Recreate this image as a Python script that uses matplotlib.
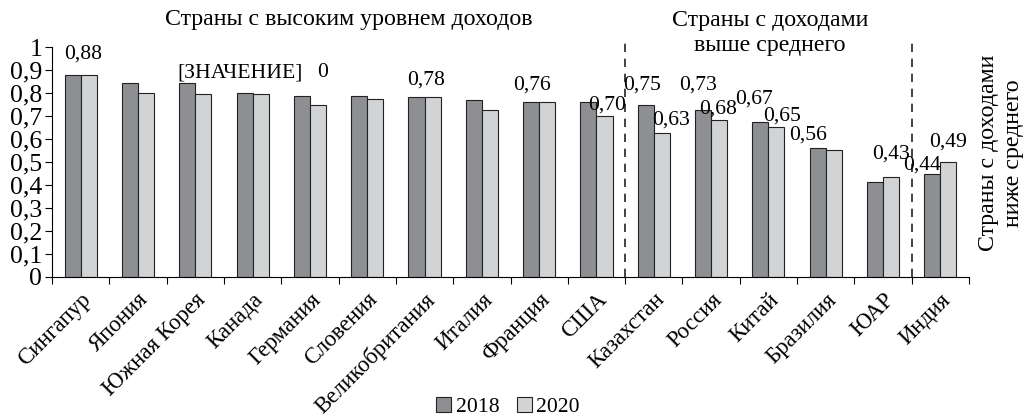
import matplotlib
matplotlib.use('Agg')
import matplotlib.pyplot as plt
from matplotlib.transforms import ScaledTranslation
import numpy as np

plt.rcParams['font.family'] = ['Liberation Serif', 'DejaVu Serif']

countries = ['Сингапур', 'Япония', 'Южная Корея', 'Канада', 'Германия', 'Словения',
             'Великобритания', 'Италия', 'Франция', 'США', 'Казахстан', 'Россия',
             'Китай', 'Бразилия', 'ЮАР', 'Индия']
v2018 = [0.88, 0.843, 0.843, 0.80, 0.788, 0.788, 0.782, 0.769, 0.762, 0.76,
         0.747, 0.727, 0.674, 0.561, 0.413, 0.446]
v2020 = [0.88, 0.802, 0.795, 0.795, 0.747, 0.775, 0.782, 0.727, 0.762, 0.70,
         0.628, 0.682, 0.654, 0.554, 0.435, 0.50]
years = ['2018', '2020']
yticks = np.arange(0, 1.01, 0.1)

# data labels: (country index, series, text)
labels = [(0, 0, '0,88'), (2, 0, '[ЗНАЧЕНИЕ]'), (4, 0, '0'), (6, 0, '0,78'),
          (8, 0, '0,76'), (9, 1, '0,70'), (10, 0, '0,75'), (10, 1, '0,63'),
          (11, 0, '0,73'), (11, 1, '0,68'), (12, 0, '0,67'), (12, 1, '0,65'),
          (13, 0, '0,56'), (14, 1, '0,43'), (15, 0, '0,44'), (15, 1, '0,49')]
# offsets of label centres from bar tops, pixels
label_off = [(10, 21), (53, 10), (21, 23), (10, 17), (1, 17), (3, 11), (-4, 20), (9, 13),
             (-5, 25), (-1, 11), (-6, 23), (6, 11), (-10, 13), (0, 23), (-10, 9), (0, 20)]

fig = plt.figure(figsize=(10.27, 4.18), dpi=100)
ax = fig.add_axes([52/1027, 1-276.7/418, 917/1027, 229.4/418])

x = np.arange(len(countries))
w = 0.28
c18 = '#8e8f93'
c20 = '#d2d3d5'
b1 = ax.bar(x - w/2, v2018, w, color=c18, edgecolor='#222222', linewidth=0.8, label=years[0])
b2 = ax.bar(x + w/2, v2020, w, color=c20, edgecolor='#222222', linewidth=0.8, label=years[1])

vals = [v2018, v2020]
for (i, s, t), (dx, dy) in zip(labels, label_off):
    xc = x[i] + (w/2 if s else -w/2)
    ax.annotate(t, (xc, vals[s][i]), xytext=(dx, dy), textcoords='offset pixels',
                ha='center', va='center', fontsize=15.6)

ax.set_xlim(-0.5, len(countries) - 0.5)
ax.set_ylim(0, 1)
ax.set_yticks(yticks)
ax.set_yticklabels([('%.1f' % v).replace('.', ',') if v not in (0, 1) else '%d' % round(v)
                    for v in yticks], fontsize=18.5)
ax.set_xticks(np.arange(len(countries) + 1) - 0.5)
ax.set_xticklabels([])
ax.set_xticks(x, minor=True)
ax.set_xticklabels(countries, minor=True, rotation=45, ha='right', rotation_mode='anchor',
                   fontsize=16.4)
shift = ScaledTranslation(-4/100, 0, fig.dpi_scale_trans)
for lab in ax.get_xticklabels(minor=True):
    lab.set_transform(lab.get_transform() + shift)
ax.tick_params(axis='x', which='minor', length=0, pad=9)
ax.tick_params(axis='x', which='major', length=5, direction='out')
ax.tick_params(axis='y', length=5, direction='out', pad=2)
for sp in ['top', 'right']:
    ax.spines[sp].set_visible(False)

for b in [9.5, 14.5]:
    ax.plot([b, b], [0, 1.025], ls=(0, (5, 4)), color='#222222', lw=1.2, clip_on=False)

fig.text(349/1027, 1-20/418, 'Страны с высоким уровнем доходов', ha='center', va='center',
         fontsize=17.2)
fig.text(770/1027, 1-33/418, 'Страны с доходами\nвыше среднего', ha='center', va='center',
         fontsize=17.2, linespacing=1.25)
fig.text(1001/1027, 1-153/418, 'Страны с доходами\nниже среднего', ha='center', va='center',
         rotation=90, fontsize=17.2, linespacing=1.3)

fig.legend(handles=[b1, b2], labels=years, loc='center', bbox_to_anchor=(508/1027, 1-407/418),
           ncol=2, frameon=False, fontsize=15.6, handlelength=0.7, handleheight=0.7,
           handletextpad=0.2, columnspacing=0.8, borderpad=0)

fig.savefig('out.png', dpi=100)
